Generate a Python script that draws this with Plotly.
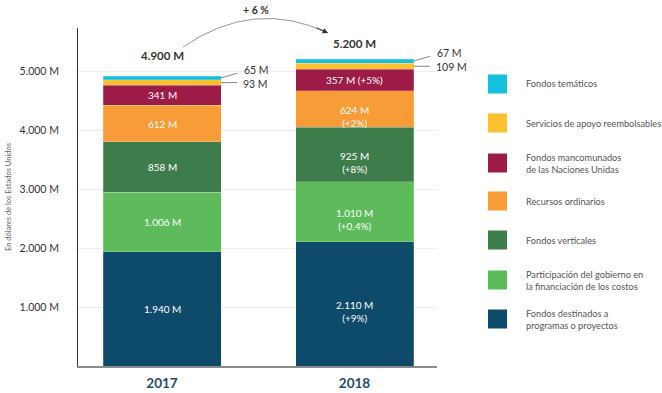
import plotly.graph_objects as go

years = ["2017", "2018"]
series = [
    "Fondos destinados a<br>programas o proyectos",
    "Participación del gobierno en<br>la financiación de los costos",
    "Fondos verticales",
    "Recursos ordinarios",
    "Fondos mancomunados<br>de las Naciones Unidas",
    "Servicios de apoyo reembolsables",
    "Fondos temáticos",
]
values_2017 = [1940, 1006, 858, 612, 341, 93, 65]
values_2018 = [2110, 1010, 925, 624, 357, 109, 67]
change_2018 = ["+9%", "+0.4%", "+8%", "+2%", "+5%", None, None]
totals_labels = ["4.900 M", "5.200 M"]
growth_label = "+ 6 %"
y_ticks = [1000, 2000, 3000, 4000, 5000]
colors = ["#0E4A69", "#5DBB5B", "#3E7D4B", "#F89C37", "#9D1C47", "#FBC12E", "#14BFE0"]

# layout geometry (pixels)
W, H = 662, 393
ML, MR, MT, MB = 78, 225, 28, 27
PW, PH = W - ML - MR, H - MT - MB
PX_PER_K = 59.0
YMAX = PH / PX_PER_K * 1000


def px(x):
    return (x - ML) / PW


def py(y):
    return (H - MB - y) / PH


def fmt(v):
    s = f"{v:,}".replace(",", ".")
    return f"{s} M"


BAR_W = 0.613
x_pos = [0, 1]
all_vals = [values_2017, values_2018]
fig = go.Figure()
small = {5, 6}
for i, name in enumerate(series):
    vals = [values_2017[i], values_2018[i]]
    fig.add_trace(go.Bar(
        x=x_pos, y=vals, name=name, width=BAR_W,
        marker=dict(color=colors[i], line=dict(color="rgba(255,255,255,0.35)", width=0.6)),
        hoverinfo="skip", showlegend=False,
    ))
    if i in small:
        continue
    for j, v in enumerate(vals):
        mid = sum(all_vals[j][:i]) + v / 2
        t = fmt(v)
        two_lines = False
        if j == 1 and change_2018[i]:
            if i == 4:
                t = f"{t} ({change_2018[i]})"
            else:
                t = f"{t}<br>({change_2018[i]})"
                two_lines = True
        fig.add_annotation(
            x=x_pos[j], y=mid, xref="x", yref="y", text=t, showarrow=False,
            xanchor="center", yanchor="top" if two_lines else "middle",
            yshift=7 if two_lines else 0, align="center",
            font=dict(family="Lato", size=10, color="white"))

# outside labels for small segments with leader lines
for j in range(2):
    vals = all_vals[j]
    base_y = sum(vals[:5])
    yellow_mid = base_y + vals[5] / 2
    cyan_mid = base_y + vals[5] + vals[6] / 2
    xr = x_pos[j] + BAR_W / 2
    fig.add_shape(type="line", xref="x", yref="y", x0=xr, x1=xr + 0.085,
                  y0=yellow_mid, y1=yellow_mid, line=dict(color="#8a8a8a", width=1))
    fig.add_annotation(x=xr + 0.085, y=yellow_mid, xref="x", yref="y", text=fmt(vals[5]),
                       showarrow=False, xanchor="left", yanchor="middle", xshift=4, yshift=-1,
                       font=dict(family="Lato", size=10.5, color="#333"))
    fig.add_shape(type="line", xref="x", yref="y", x0=xr, x1=xr + 0.085,
                  y0=cyan_mid, y1=cyan_mid + 80, line=dict(color="#8a8a8a", width=1))
    fig.add_annotation(x=xr + 0.085, y=cyan_mid + 80, xref="x", yref="y", text=fmt(vals[6]),
                       showarrow=False, xanchor="left", yanchor="middle", xshift=5, yshift=3,
                       font=dict(family="Lato", size=10.5, color="#333"))

# totals
tot_shift = [21, 16]
for j in range(2):
    fig.add_annotation(x=x_pos[j], y=sum(all_vals[j]), xref="x", yref="y",
                       text=f"<b>{totals_labels[j]}</b>", showarrow=False,
                       xanchor="center", yanchor="middle",
                       yshift=tot_shift[j], font=dict(family="Lato", size=11.5, color="#333"))

# growth arrow
p0 = (183, 47)
c = (254, -2)
p2 = (328, 33)
fig.add_shape(type="path", xref="paper", yref="paper",
              path=f"M {px(p0[0])},{py(p0[1])} Q {px(c[0])},{py(c[1])} {px(p2[0])},{py(p2[1])}",
              line=dict(color="#999", width=1))
fig.add_annotation(x=px(p2[0]), y=py(p2[1]), xref="paper", yref="paper", ax=-13, ay=-6,
                   text="", showarrow=True, arrowhead=2, arrowsize=1.1, arrowwidth=1,
                   arrowcolor="#333")
fig.add_annotation(x=px(256), y=py(10), xref="paper", yref="paper", text=f"<b>{growth_label}</b>",
                   showarrow=False, xanchor="center", yanchor="middle",
                   font=dict(family="Lato", size=10.5, color="#333"))

# legend (manual)
leg_y = [84, 123, 163, 201, 240, 280, 319]
order = [6, 5, 4, 3, 2, 1, 0]
for k, i in enumerate(order):
    cy = leg_y[k]
    fig.add_shape(type="rect", xref="paper", yref="paper", x0=px(488), x1=px(507),
                  y0=py(cy + 9.5), y1=py(cy - 9.5), fillcolor=colors[i], line=dict(width=0))
    fig.add_annotation(x=px(524), y=py(cy), xref="paper", yref="paper", text=series[i],
                       showarrow=False, xanchor="left", yanchor="middle", align="left",
                       font=dict(family="Lato", size=9.2, color="#555"))

# y axis title
fig.add_annotation(x=px(8), y=py(197), xref="paper", yref="paper",
                   text="En dólares de los Estados Unidos", textangle=-90, showarrow=False,
                   xanchor="center", yanchor="middle",
                   font=dict(family="Lato", size=7.5, color="#666"))

x_min = -(162 - ML) / 192.5
x_max = x_min + PW / 192.5

fig.update_layout(
    width=W, height=H, barmode="stack",
    margin=dict(l=ML, r=MR, t=MT, b=MB, pad=0, autoexpand=False),
    paper_bgcolor="white", plot_bgcolor="white",
    xaxis=dict(range=[x_min, x_max], tickvals=x_pos, ticktext=[f"<b>{y}</b>" for y in years],
               tickfont=dict(family="Lato", size=13.5, color="#1F4B6D"),
               showline=True, linecolor="#8c8c8c", linewidth=1.5, showgrid=False,
               zeroline=False, ticks="", ticklabelstandoff=4),
    yaxis=dict(range=[0, YMAX], tickvals=y_ticks, ticktext=[fmt(v) for v in y_ticks],
               tickfont=dict(family="Lato", size=10.5, color="#333"),
               showline=True, linecolor="#333", linewidth=1, showgrid=True,
               gridcolor="#eeeeee", gridwidth=1, zeroline=False, ticks="",
               ticklabelstandoff=16),
)

fig.write_html("out.html", config={"displayModeBar": False},
               post_script="document.body.style.margin='0';document.body.style.overflow='hidden';")
